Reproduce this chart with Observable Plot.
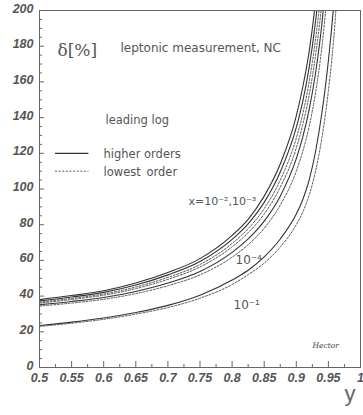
<!DOCTYPE html>
<html><head><meta charset="utf-8">
<script src="https://cdn.jsdelivr.net/npm/d3@7"></script>
<script src="https://cdn.jsdelivr.net/npm/@observablehq/plot@0.6"></script>
<style>body{margin:0;background:#fff} svg{display:block}</style>
</head><body><div id="chart"></div>
<script>
// y (inelasticity) grid at which the curves were read
const yGrid = [0.5, 0.55, 0.6, 0.65, 0.7, 0.75, 0.8, 0.825, 0.85, 0.875, 0.9, 0.91, 0.92, 0.93, 0.94, 0.95, 0.96, 0.97];
// delta [%], higher orders (solid)
const higher_x1e2 = [38, 40.3, 43, 47.3, 53.2, 61, 74, 83, 96, 114, 141, 157, 177, 205, 242, 295, 370, 480];
const higher_x1e3 = [37.3, 39.5, 42.1, 46.2, 51.9, 59.4, 71.8, 80.5, 92.5, 109.5, 134.5, 149, 168, 194, 229, 280, 350, 460];
const higher_x1e4 = [35.2, 37, 39.2, 42.6, 47.3, 53.8, 64.5, 72, 82, 96, 117, 129, 144.5, 165, 193, 235, 295, 390];
const higher_x1e1 = [23.5, 25.4, 27.7, 30.8, 34.8, 40.5, 49, 54.5, 62, 72, 86, 94, 105, 121, 143, 172, 212, 280];
// delta [%], lowest order (dashed)
const lowest_x1e2 = [36.6, 38.7, 41.2, 45.1, 50.5, 57.7, 69.5, 77.8, 89, 105, 128.5, 142, 160, 184, 216, 263, 330, 430];
const lowest_x1e3 = [36.1, 38.1, 40.5, 44.2, 49.4, 56.3, 67.6, 75.5, 86, 101, 123, 136, 152.5, 175, 205, 250, 315, 410];
const lowest_x1e4 = [34.4, 36.1, 38.2, 41.4, 45.8, 51.9, 61.8, 68.8, 78, 91, 110, 121, 135, 154, 180, 218, 272, 360];
const lowest_x1e1 = [23, 24.8, 27, 29.9, 33.6, 38.8, 46.5, 52, 58.5, 67.5, 80, 87, 96.5, 110, 129, 155, 192, 250];

const xTicks = [0.5, 0.55, 0.6, 0.65, 0.7, 0.75, 0.8, 0.85, 0.9, 0.95, 1];
const xTickLabels = ["0.5", "0.55", "0.6", "0.65", "0.7", "0.75", "0.8", "0.85", "0.9", "0.95", "1"];
const xMinor = [0.525, 0.575, 0.625, 0.675, 0.725, 0.775, 0.825, 0.875, 0.925, 0.975];
const yTicks = [0, 20, 40, 60, 80, 100, 120, 140, 160, 180, 200];
const yTickLabels = ["0", "20", "40", "60", "80", "100", "120", "140", "160", "180", "200"];
const yMinor = d3.range(0, 201, 5).filter(v => v % 20 !== 0);

const legendSolidY = [120];
const legendDashedY = [110];
const legendX = [0.525, 0.577];

function rows(arr, key) { return yGrid.map((y, i) => ({y, v: arr[i], key})); }
const solidRows = [
  ...rows(higher_x1e2, "1e-2"), ...rows(higher_x1e3, "1e-3"),
  ...rows(higher_x1e4, "1e-4"), ...rows(higher_x1e1, "1e-1")
];
const dashedRows = [
  ...rows(lowest_x1e2, "1e-2"), ...rows(lowest_x1e3, "1e-3"),
  ...rows(lowest_x1e4, "1e-4"), ...rows(lowest_x1e1, "1e-1")
];

const W = 363, H = 415, mL = 39, mR = 3, mT = 10, mB = 48;
const fw = W - mL - mR, fh = H - mT - mB;
const sans = "'DejaVu Sans', sans-serif";
const tickFont = {fontSize: 12.5, fontStyle: "italic", fontWeight: "bold", fill: "#555", fontFamily: "'Liberation Sans', Arial, sans-serif"};

const note = (t, dx, dy, extra = {}) => Plot.text([t], {
  frameAnchor: "top-left", dx, dy, textAnchor: "start", fontFamily: sans,
  fontSize: 11.5, fill: "#555", ...extra
});

const chart = Plot.plot({
  width: W, height: H,
  marginLeft: mL, marginRight: mR, marginTop: mT, marginBottom: mB,
  style: {background: "#fff", overflow: "visible"},
  x: {domain: [0.5, 1]},
  y: {domain: [0, 200]},
  marks: [
    Plot.line(solidRows, {x: "y", y: "v", z: "key", stroke: "#333", strokeWidth: 1.1, curve: "monotone-x", clip: true}),
    Plot.line(dashedRows, {x: "y", y: "v", z: "key", stroke: "#444", strokeWidth: 0.9, strokeDasharray: "2,1.6", curve: "monotone-x", clip: true}),
    Plot.frame({stroke: "#666"}),
    Plot.tickX(xTicks, {stroke: "#666", insetTop: fh - 6}),
    Plot.tickX(xMinor, {stroke: "#666", insetTop: fh - 3}),
    Plot.tickY(yTicks, {stroke: "#666", insetRight: fw - 5}),
    Plot.tickY(yMinor, {stroke: "#666", insetRight: fw - 3}),
    Plot.axisX(xTicks, {label: null, tickSize: 0, tickPadding: 6, tickFormat: (d, i) => xTickLabels[i], ...tickFont}),
    Plot.axisY(yTicks, {label: null, tickSize: 0, tickPadding: 6, dy: -2, tickFormat: (d, i) => yTickLabels[i], ...tickFont}),
    Plot.ruleY(legendSolidY, {x1: legendX[0], x2: legendX[1], stroke: "#333", strokeWidth: 1.2}),
    Plot.ruleY(legendDashedY, {x1: legendX[0], x2: legendX[1], stroke: "#444", strokeWidth: 0.9, strokeDasharray: "2,1.6"}),
    note("δ[%]", 18, 33, {fontFamily: "'DejaVu Serif', serif", fontSize: 17}),
    note("leptonic measurement, NC", 81, 33, {fontSize: 12}),
    note("leading log", 66, 105),
    note("higher orders", 64, 139),
    note("lowest\u2002order", 64, 157),
    note("x=10⁻²,10⁻³", 149, 187, {fontSize: 11}),
    note("10⁻⁴", 196, 245, {fontSize: 12}),
    note("10⁻¹", 194, 290, {fontSize: 12}),
    note("Hector", 273, 332, {fontFamily: "'DejaVu Serif', serif", fontStyle: "italic", fontSize: 7.5, fill: "#444"}),
    Plot.text(["y"], {frameAnchor: "bottom-right", dx: -5, dy: 33, fontFamily: "'Liberation Sans', sans-serif", fontSize: 22, fill: "#666"})
  ]
});
document.getElementById("chart").append(chart);
</script>
</body></html>
